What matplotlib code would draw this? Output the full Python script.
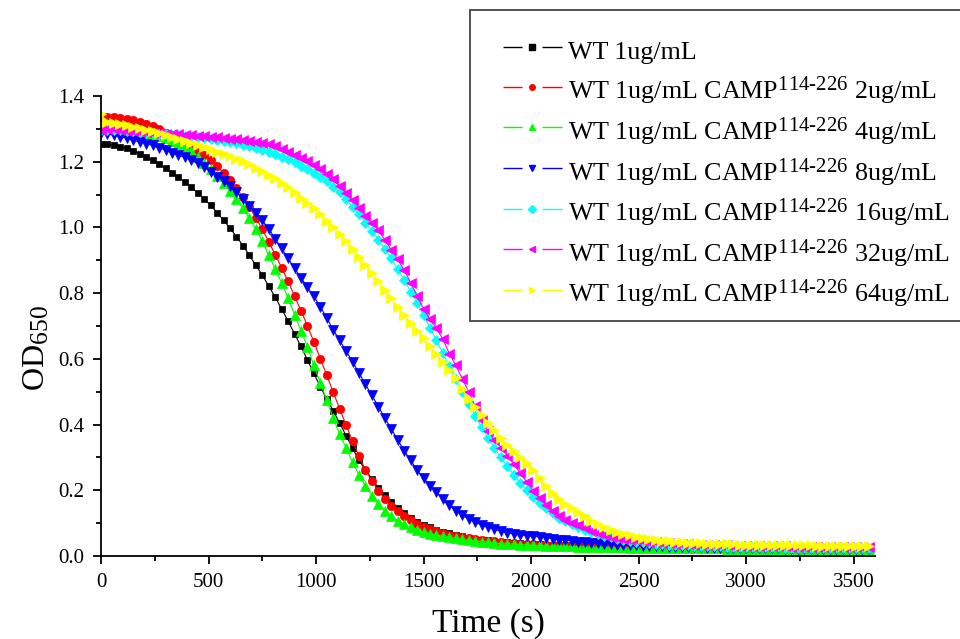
import numpy as np
import matplotlib
matplotlib.use('Agg')
import matplotlib.pyplot as plt
import matplotlib._mathtext as mathtext_internal
from matplotlib.lines import Line2D
from matplotlib.patches import Rectangle
from matplotlib.ticker import MultipleLocator

plt.rcParams['font.family'] = ['Liberation Serif', 'DejaVu Serif']
plt.rcParams['mathtext.fontset'] = 'custom'
plt.rcParams['mathtext.rm'] = 'Liberation Serif'
plt.rcParams['mathtext.it'] = 'Liberation Serif'
# the original software draws sub/superscripts larger than mathtext does
mathtext_internal.SHRINK_FACTOR = 0.8

# time axis, one reading every 30 s
time_s = np.arange(0, 3600, 30)

wt_1 = [1.255, 1.253, 1.250, 1.246, 1.241, 1.234, 1.225, 1.215, 1.204, 1.192,
        1.180, 1.167, 1.153, 1.138, 1.122, 1.105, 1.087, 1.067, 1.045, 1.022,
        0.998, 0.972, 0.945, 0.915, 0.885, 0.855, 0.822, 0.788, 0.752, 0.715,
        0.677, 0.638, 0.597, 0.556, 0.515, 0.478, 0.442, 0.405, 0.366, 0.328,
        0.292, 0.261, 0.234, 0.208, 0.185, 0.165, 0.147, 0.131, 0.117, 0.105,
        0.095, 0.087, 0.080, 0.074, 0.069, 0.064, 0.060, 0.056, 0.053, 0.050,
        0.048, 0.046, 0.044, 0.042, 0.041, 0.039, 0.038, 0.037, 0.036, 0.035,
        0.034, 0.034, 0.033, 0.033, 0.032, 0.032, 0.031, 0.031, 0.031, 0.030,
        0.030, 0.030, 0.029, 0.029, 0.029, 0.029, 0.028, 0.028, 0.028, 0.028,
        0.027, 0.027, 0.027, 0.027, 0.027, 0.026, 0.026, 0.026, 0.026, 0.026,
        0.026, 0.026, 0.025, 0.025, 0.025, 0.025, 0.025, 0.025, 0.025, 0.025,
        0.025, 0.025, 0.024, 0.024, 0.024, 0.024, 0.024, 0.024, 0.024, 0.024]

camp_2 = [1.333, 1.336, 1.335, 1.333, 1.330, 1.326, 1.321, 1.315, 1.308, 1.299,
          1.288, 1.278, 1.269, 1.259, 1.248, 1.236, 1.221, 1.205, 1.187, 1.166,
          1.143, 1.119, 1.092, 1.062, 1.030, 0.995, 0.957, 0.917, 0.878, 0.836,
          0.791, 0.747, 0.701, 0.652, 0.601, 0.550, 0.499, 0.448, 0.398, 0.349,
          0.303, 0.262, 0.228, 0.199, 0.173, 0.152, 0.136, 0.122, 0.109, 0.098,
          0.089, 0.082, 0.076, 0.070, 0.065, 0.061, 0.057, 0.054, 0.052, 0.049,
          0.047, 0.045, 0.043, 0.041, 0.040, 0.038, 0.037, 0.036, 0.034, 0.033,
          0.032, 0.032, 0.031, 0.031, 0.030, 0.030, 0.029, 0.029, 0.029, 0.028,
          0.028, 0.028, 0.027, 0.027, 0.027, 0.027, 0.026, 0.026, 0.026, 0.026,
          0.026, 0.025, 0.025, 0.025, 0.025, 0.025, 0.025, 0.025, 0.024, 0.024,
          0.024, 0.024, 0.024, 0.024, 0.024, 0.024, 0.023, 0.023, 0.023, 0.023,
          0.023, 0.023, 0.023, 0.023, 0.023, 0.023, 0.023, 0.023, 0.023, 0.023]

camp_4 = [1.300, 1.302, 1.301, 1.299, 1.296, 1.293, 1.289, 1.285, 1.281, 1.277,
          1.271, 1.264, 1.255, 1.245, 1.232, 1.215, 1.197, 1.178, 1.158, 1.136,
          1.112, 1.086, 1.058, 1.028, 0.995, 0.958, 0.916, 0.873, 0.832, 0.785,
          0.735, 0.686, 0.636, 0.580, 0.528, 0.474, 0.420, 0.371, 0.329, 0.285,
          0.247, 0.213, 0.184, 0.158, 0.137, 0.121, 0.108, 0.098, 0.088, 0.080,
          0.073, 0.068, 0.064, 0.060, 0.057, 0.054, 0.051, 0.048, 0.046, 0.044,
          0.042, 0.040, 0.038, 0.037, 0.036, 0.035, 0.034, 0.033, 0.032, 0.031,
          0.030, 0.030, 0.029, 0.029, 0.028, 0.028, 0.027, 0.027, 0.027, 0.026,
          0.026, 0.026, 0.025, 0.025, 0.025, 0.025, 0.024, 0.024, 0.024, 0.024,
          0.024, 0.023, 0.023, 0.023, 0.023, 0.023, 0.023, 0.022, 0.022, 0.022,
          0.022, 0.022, 0.022, 0.022, 0.022, 0.022, 0.022, 0.021, 0.021, 0.021,
          0.021, 0.021, 0.021, 0.021, 0.021, 0.021, 0.021, 0.021, 0.021, 0.021]

camp_8 = [1.287, 1.284, 1.281, 1.276, 1.271, 1.265, 1.260, 1.255, 1.250, 1.243,
          1.235, 1.227, 1.220, 1.213, 1.205, 1.195, 1.183, 1.169, 1.154, 1.140,
          1.126, 1.108, 1.088, 1.066, 1.045, 1.022, 0.996, 0.966, 0.936, 0.906,
          0.876, 0.847, 0.818, 0.790, 0.759, 0.724, 0.689, 0.656, 0.624, 0.591,
          0.557, 0.522, 0.489, 0.455, 0.420, 0.387, 0.353, 0.321, 0.291, 0.262,
          0.236, 0.214, 0.194, 0.174, 0.154, 0.138, 0.124, 0.112, 0.103, 0.095,
          0.088, 0.081, 0.076, 0.071, 0.067, 0.064, 0.062, 0.060, 0.058, 0.056,
          0.053, 0.050, 0.048, 0.046, 0.044, 0.042, 0.040, 0.039, 0.037, 0.036,
          0.035, 0.034, 0.033, 0.032, 0.031, 0.030, 0.030, 0.029, 0.028, 0.028,
          0.027, 0.027, 0.026, 0.026, 0.025, 0.025, 0.025, 0.024, 0.024, 0.024,
          0.024, 0.023, 0.023, 0.023, 0.023, 0.023, 0.022, 0.022, 0.022, 0.022,
          0.022, 0.022, 0.022, 0.022, 0.022, 0.022, 0.022, 0.022, 0.022, 0.022]

camp_16 = [1.296, 1.298, 1.297, 1.296, 1.294, 1.292, 1.290, 1.288, 1.286, 1.285,
           1.284, 1.282, 1.281, 1.279, 1.277, 1.275, 1.273, 1.270, 1.267, 1.264,
           1.260, 1.256, 1.252, 1.247, 1.242, 1.236, 1.230, 1.223, 1.215, 1.207,
           1.198, 1.188, 1.177, 1.166, 1.154, 1.140, 1.124, 1.107, 1.086, 1.063,
           1.040, 1.015, 0.990, 0.963, 0.935, 0.906, 0.873, 0.840, 0.805, 0.770,
           0.733, 0.695, 0.656, 0.617, 0.578, 0.539, 0.500, 0.463, 0.427, 0.393,
           0.360, 0.329, 0.300, 0.273, 0.247, 0.223, 0.200, 0.180, 0.161, 0.145,
           0.130, 0.117, 0.106, 0.096, 0.088, 0.080, 0.073, 0.067, 0.062, 0.057,
           0.053, 0.050, 0.047, 0.044, 0.042, 0.040, 0.038, 0.036, 0.035, 0.034,
           0.033, 0.032, 0.031, 0.030, 0.030, 0.029, 0.029, 0.028, 0.028, 0.027,
           0.027, 0.027, 0.026, 0.026, 0.026, 0.026, 0.025, 0.025, 0.025, 0.025,
           0.025, 0.025, 0.024, 0.024, 0.024, 0.024, 0.024, 0.024, 0.024, 0.024]

camp_32 = [1.298, 1.300, 1.299, 1.297, 1.295, 1.293, 1.291, 1.289, 1.287, 1.286,
           1.285, 1.284, 1.283, 1.282, 1.281, 1.279, 1.278, 1.276, 1.274, 1.272,
           1.270, 1.268, 1.266, 1.263, 1.261, 1.258, 1.254, 1.248, 1.240, 1.230,
           1.220, 1.211, 1.202, 1.191, 1.178, 1.164, 1.146, 1.125, 1.104, 1.082,
           1.059, 1.036, 1.014, 0.991, 0.962, 0.932, 0.903, 0.870, 0.832, 0.792,
           0.752, 0.720, 0.693, 0.660, 0.616, 0.580, 0.540, 0.500, 0.456, 0.414,
           0.380, 0.354, 0.330, 0.305, 0.280, 0.252, 0.225, 0.199, 0.176, 0.156,
           0.137, 0.121, 0.109, 0.100, 0.093, 0.084, 0.076, 0.069, 0.063, 0.058,
           0.055, 0.053, 0.050, 0.048, 0.046, 0.044, 0.042, 0.040, 0.039, 0.038,
           0.037, 0.036, 0.035, 0.034, 0.033, 0.033, 0.032, 0.032, 0.031, 0.031,
           0.030, 0.030, 0.030, 0.029, 0.029, 0.029, 0.029, 0.028, 0.028, 0.028,
           0.028, 0.028, 0.027, 0.027, 0.027, 0.027, 0.027, 0.027, 0.027, 0.027]

camp_64 = [1.345, 1.320, 1.317, 1.314, 1.311, 1.307, 1.303, 1.298, 1.293, 1.287,
           1.281, 1.275, 1.269, 1.263, 1.257, 1.251, 1.245, 1.238, 1.231, 1.224,
           1.216, 1.209, 1.201, 1.192, 1.182, 1.172, 1.161, 1.149, 1.136, 1.122,
           1.107, 1.091, 1.075, 1.058, 1.040, 1.021, 1.001, 0.980, 0.958, 0.935,
           0.911, 0.886, 0.861, 0.836, 0.810, 0.784, 0.757, 0.733, 0.710, 0.686,
           0.662, 0.638, 0.614, 0.591, 0.567, 0.541, 0.508, 0.478, 0.452, 0.428,
           0.405, 0.382, 0.359, 0.338, 0.320, 0.302, 0.283, 0.262, 0.238, 0.214,
           0.193, 0.174, 0.158, 0.145, 0.133, 0.121, 0.108, 0.098, 0.089, 0.080,
           0.074, 0.068, 0.063, 0.059, 0.055, 0.052, 0.049, 0.046, 0.045, 0.043,
           0.042, 0.041, 0.040, 0.039, 0.038, 0.037, 0.037, 0.036, 0.036, 0.035,
           0.035, 0.034, 0.034, 0.034, 0.033, 0.033, 0.033, 0.032, 0.032, 0.032,
           0.032, 0.031, 0.031, 0.031, 0.031, 0.031, 0.030, 0.030, 0.030, 0.030]

sup = r'$^{\mathrm{114‐226}}$'
labels = ['WT 1ug/mL',
          'WT 1ug/mL CAMP' + sup + ' 2ug/mL',
          'WT 1ug/mL CAMP' + sup + ' 4ug/mL',
          'WT 1ug/mL CAMP' + sup + ' 8ug/mL',
          'WT 1ug/mL CAMP' + sup + ' 16ug/mL',
          'WT 1ug/mL CAMP' + sup + ' 32ug/mL',
          'WT 1ug/mL CAMP' + sup + ' 64ug/mL']
series = [wt_1, camp_2, camp_4, camp_8, camp_16, camp_32, camp_64]
colors = ['#000000', '#ff0000', '#00ff00', '#0000ff', '#00ffff', '#ff00ff', '#ffff00']
markers = ['s', 'o', '^', 'v', 'D', '<', '>']
msizes = [5, 6, 6.5, 6.5, 5, 6.5, 6.5]

fig = plt.figure(figsize=(9.6, 6.39), dpi=100)
ax = fig.add_axes([101 / 960, 1 - 556 / 639, 774 / 960, 460 / 639])

for y, c, m, ms in zip(series, colors, markers, msizes):
    ax.plot(time_s, y, color=c, marker=m, markersize=ms, markeredgewidth=0.5,
            linewidth=0.8)

ax.set_xlim(0, 3600)
ax.set_ylim(0, 1.4)
ax.xaxis.set_major_locator(MultipleLocator(500))
ax.xaxis.set_minor_locator(MultipleLocator(250))
ax.yaxis.set_major_locator(MultipleLocator(0.2))
ax.yaxis.set_minor_locator(MultipleLocator(0.1))
ax.yaxis.set_major_formatter(plt.FormatStrFormatter('%.1f'))
ax.spines['top'].set_visible(False)
ax.spines['right'].set_visible(False)
for s in ['left', 'bottom']:
    ax.spines[s].set_linewidth(1.3)
ax.tick_params(which='major', direction='out', length=6, width=1.3,
               labelsize=15, pad=6)
ax.tick_params(which='minor', direction='out', length=3.5, width=1.3)

ax.set_xlabel('Time (s)', fontsize=24)
ax.xaxis.set_label_coords(0.5, -0.113)
ax.set_ylabel(r'OD$_{\mathrm{650}}$', fontsize=23)
ax.yaxis.set_label_coords(-0.064, 0.452)

# legend box: frame drawn separately, it runs off the right edge
fig.patches.append(Rectangle((470 / 960, 1 - 321 / 639), 0.6, 311 / 639,
                             transform=fig.transFigure, fill=True,
                             facecolor='white', edgecolor='#444444',
                             linewidth=1.3, zorder=5))

# legend proxies: "— marker —" like the original software draws them
handles = [Line2D([], [], color=c, marker=m, markersize=4, linewidth=1.0,
                  linestyle=(0, (0, 3.6, 13.7, 14.4, 14.4, 4)))
           for c, m in zip(colors, markers)]
leg = fig.legend(handles, labels, loc='upper left', mode='expand',
                 bbox_to_anchor=(470 / 960, 0, 560 / 960, 1 - 7 / 639),
                 bbox_transform=fig.transFigure, fontsize=18.7, frameon=False,
                 handlelength=2.62, handletextpad=0.1,
                 handleheight=1.45, borderpad=1.07, labelspacing=0.34,
                 numpoints=1, borderaxespad=0)
leg.set_zorder(6)

fig.savefig('out.png', dpi=100)
